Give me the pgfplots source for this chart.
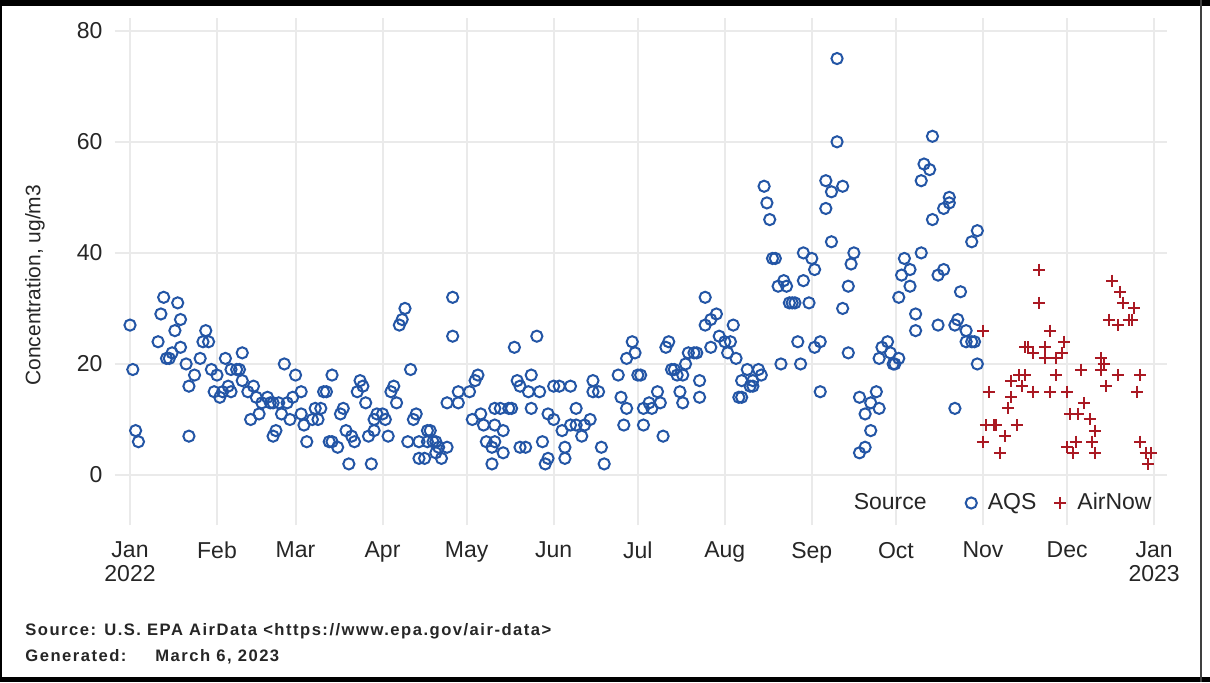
\documentclass[border=0pt]{standalone}
\usepackage{pgfplots}
\pgfplotsset{compat=1.18}
\usepackage{fontspec}
\setmainfont{Liberation Sans}
\newfontfamily\footfont{Liberation Sans}[LetterSpace=9]
\definecolor{aqs}{RGB}{35,85,165}
\definecolor{airnow}{RGB}{170,25,35}
\definecolor{gridc}{RGB}{234,234,234}
\pgfplotsset{dotlegend/.style={legend image code/.code={\draw[##1] plot coordinates {(0pt,0pt)};}}}
\pgfplotstableread{
x y
0 27
1 19
2 8
3 6
10 24
11 29
12 32
13 21
14 21
15 22
16 26
17 31
18 23
18 28
20 20
21 16
21 7
23 18
25 21
26 24
27 26
28 24
29 19
30 15
31 18
32 14
33 15
34 21
35 16
36 15
36 19
38 19
39 19
40 22
40 17
42 15
43 10
44 16
45 14
46 11
47 13
49 14
50 13
51 13
51 7
52 8
53 13
54 11
55 20
56 13
57 10
58 14
59 18
61 15
61 11
62 9
63 6
65 10
66 12
67 10
68 12
69 15
70 15
71 6
72 18
72 6
74 5
75 11
76 12
77 8
78 2
79 7
80 6
81 15
82 17
83 16
84 13
85 7
86 2
87 10
87 8
88 11
90 11
91 10
92 7
93 15
94 16
95 13
96 27
97 28
98 30
99 6
100 19
101 10
102 11
103 6
103 3
105 3
106 6
106 8
107 8
108 6
109 4
109 6
110 5
111 3
113 5
113 13
115 32
115 25
117 13
117 15
121 15
122 10
123 17
124 18
125 11
126 9
127 6
129 5
129 2
130 6
130 12
130 9
132 12
133 8
133 4
135 12
136 12
137 23
138 17
139 16
139 5
141 5
142 15
143 18
143 12
145 25
146 15
147 6
148 2
149 3
149 11
151 10
151 16
153 16
154 8
155 3
155 5
157 16
157 9
159 9
159 12
161 7
162 9
164 10
165 17
165 15
167 15
168 5
169 2
174 18
175 14
176 9
177 12
177 21
179 24
180 22
181 18
182 18
183 9
183 12
185 13
186 12
188 15
189 13
190 7
191 23
192 24
193 19
194 19
195 18
196 15
197 13
197 18
198 20
199 22
201 22
202 22
203 17
203 14
205 32
205 27
207 28
207 23
209 29
210 25
212 24
213 22
214 24
215 27
216 21
217 14
218 14
218 17
220 19
221 16
222 16
222 17
224 19
225 18
226 52
227 49
228 46
229 39
230 39
231 34
232 20
233 35
234 34
235 31
236 31
237 31
238 24
239 20
240 35
240 40
242 31
243 39
244 37
244 23
246 24
246 15
248 53
248 48
250 51
250 42
252 75
252 60
254 52
254 30
256 34
256 22
257 38
258 40
260 14
260 4
262 11
262 5
264 13
264 8
266 15
267 12
267 21
268 23
270 24
271 22
272 20
272.6 20
274 21
274 32
275 36
276 39
278 37
278 34
280 29
280 26
282 40
282 53
283 56
285 55
286 61
286 46
288 36
288 27
290 37
290 48
292 49
292 50
294 12
294 27
295 28
296 33
298 26
298 24
300 24
301 24
300 42
302 44
302 20
}\aqsdata
\pgfplotstableread{
x y
304 26
304 6
305 9
306 15
308 9
308.5 9
310 4
312 7
313 12
314 17
314 14
316 9
317 18
318 16
319 18
319 23
320 23
322 22
322 15
324 37
324 31
326 23
326 21
328 26
328 15
330 21
330 18
332 22
333 24
334 15
334 5
335 11
336 4
337 6
338 11
339 19
340 13
342 10
343 6
344 4
344 8
346 21
346 19
347 20
348 16
349 28
350 35
352 27
352 18
353 33
354 31
356 28
357 28
358 30
359 15
360 18
360 6
362 4
363 2
364 4
}\airdata
\begin{document}
\begin{tikzpicture}
\useasboundingbox (0,0) rectangle (605pt,341pt);
\fill[white] (0,0) rectangle (605pt,341pt);
\begin{axis}[
 at={(57.5pt,78.5pt)}, anchor=south west,
 width=526pt, height=253.5pt, scale only axis,
 xmin=-5.35, xmax=369.6, ymin=-9, ymax=82.3,
 xtick={0,31,59,90,120,151,181,212,243,273,304,334,365},
 xticklabels={{Jan\\2022},Feb,Mar,Apr,May,Jun,Jul,Aug,Sep,Oct,Nov,Dec,{Jan\\2023}},
 ytick={0,20,40,60,80},
 grid=major, major grid style={draw=gridc, line width=1pt},
 axis line style={draw=none}, major tick length=0pt,
 tick label style={font=\fontsize{11.5}{12}\selectfont, text=black!85},
 xticklabel style={align=center, yshift=-5pt},
 yticklabel style={xshift=-2.7pt},
 /pgf/number format/assume math mode=true,
 ylabel={Concentration, ug/m3},
 ylabel style={at={(axis description cs:-0.076,0.473)}, anchor=center, font=\fontsize{10.5}{12}\selectfont, text=black!85},
 legend columns=-1,
 legend style={draw=none, fill=none, anchor=east, at={(axis description cs:0.9857,0.0434)}, inner sep=0pt,
   font=\fontsize{11.5}{12}\selectfont, text=black!85, nodes={inner sep=0pt},
   /tikz/every odd column/.append style={column sep=5.5pt},
   /tikz/every even column/.append style={column sep=9pt}},
]
\addlegendimage{empty legend}
\addlegendentry{Source\hspace*{10.5pt}}
\addplot[only marks, mark=o, mark size=2.8pt, draw=aqs, line width=1pt, dotlegend] table[x=x,y=y] {\aqsdata};
\addlegendentry{AQS}
\addplot[only marks, mark=+, mark size=3pt, draw=airnow, line width=1pt, dotlegend] table[x=x,y=y] {\airdata};
\addlegendentry{AirNow}
\end{axis}
\node[anchor=base west, inner sep=0pt, font=\footfont\bfseries\fontsize{8.3}{9}\selectfont, text=black!85] at (12.5pt,23.5pt) {Source: U.S. EPA AirData <https://www.epa.gov/air-data>};
\node[anchor=base west, inner sep=0pt, font=\footfont\bfseries\fontsize{8.3}{9}\selectfont, text=black!85] at (12.5pt,10.5pt) {Generated:};
\node[anchor=base west, inner sep=0pt, font=\footfont\bfseries\fontsize{8.3}{9}\selectfont, text=black!85] at (77.5pt,10.5pt) {March 6, 2023};
\fill[black] (0,338pt) rectangle (605pt,341pt);
\fill[black] (0,0) rectangle (605pt,2.5pt);
\fill[black] (0,0) rectangle (0.8pt,341pt);
\fill[black!75] (600pt,0) rectangle (601.2pt,341pt);
\end{tikzpicture}
\end{document}
